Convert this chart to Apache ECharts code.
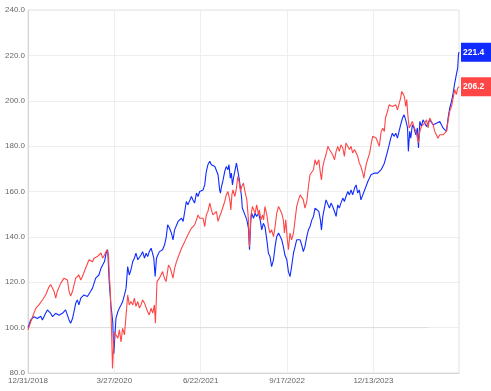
<!DOCTYPE html>
<html>
<head>
<meta charset="utf-8">
<script src="https://cdn.jsdelivr.net/npm/echarts@6/dist/echarts.min.js"></script>
<style>html,body{margin:0;padding:0;background:#fff}#c{width:491px;height:391px}</style>
</head>
<body>
<div id="c"></div>
<script>
// x positions are weekday indices counted from 12/31/2018 (324 weekdays between labels)
const tickLabels = ['12/31/2018', '3/27/2020', '6/22/2021', '9/17/2022', '12/13/2023'];
const tickStep = 324;

const blueIdx = [0,10,23,35,48,54,66,73,85,92,104,116,129,141,148,154,160,167,179,185,191,198,210,223,235,242,254,266,274,280,287,293,299,305,311,318,322,330,337,343,349,355,362,368,374,380,386,393,399,405,412,418,424,430,437,443,449,455,462,465,472,477,482,487,493,505,512,518,524,531,538,544,550,557,563,569,576,582,588,594,600,607,613,619,625,632,638,644,651,657,663,669,675,682,688,694,701,707,713,719,722,726,732,738,744,750,754,759,763,767,772,776,782,787,792,797,801,804,809,814,821,827,831,836,839,846,852,858,865,871,877,883,889,896,902,908,914,921,927,933,940,946,952,958,964,971,977,983,989,996,1002,1008,1015,1021,1027,1033,1039,1046,1052,1058,1065,1071,1077,1083,1091,1097,1101,1106,1112,1118,1125,1131,1137,1143,1150,1156,1162,1168,1174,1181,1187,1193,1200,1206,1212,1218,1225,1231,1237,1243,1249,1256,1262,1268,1275,1281,1287,1293,1300,1306,1312,1318,1325,1331,1337,1342,1349,1355,1361,1367,1373,1380,1386,1392,1398,1405,1411,1417,1424,1427,1432,1436,1442,1448,1455,1461,1465,1470,1476,1482,1488,1495,1501,1507,1514,1520,1526,1532,1538,1545,1551,1557,1564,1570,1576,1582,1589,1595,1601,1607,1612,1615,1617];
const blueVal = [100,103.4,104.8,104,105,103.4,106.3,107.8,106.3,104.8,106.3,105.5,106.3,107.8,108.5,103.4,101.9,104,110.7,112.2,110,113,114.4,113.7,116,117.4,121.8,123.2,126.2,127.6,129.1,132.8,134.3,119.6,110,102.6,88.5,104.1,107,108.6,110,111.5,114.4,117.4,126.9,123.2,125.4,129.1,130.6,132.8,129.9,129.1,132,133.5,130.6,132.8,131.3,133.5,135,135.7,130.6,122.5,130.6,132,133.5,134.3,136.4,139.4,145.3,143.8,141.7,138.7,143.1,143.8,146.8,146,148.2,146.8,151.2,155.6,154.1,154.9,157.8,156.3,154.9,159.3,157.8,160,159.3,160.7,162.9,168.8,171.8,173.3,171.8,172.5,171,170.3,167.4,160.7,159.3,162.2,165.1,168.8,171,169.6,171.8,165.9,168.1,162.9,166.6,165.9,172.5,173.3,165.9,161.4,157.8,152.7,153.4,149.7,147.5,143.8,134.3,147.5,150.4,148.2,150.4,149,150.4,147.5,143.1,146,144.5,138.7,132.8,131.3,126.9,129.9,135.7,140.1,141.7,142.3,138.7,135.7,132,129.9,124.7,122.5,126.9,132.8,135.7,138.7,139.4,138.7,136.4,133.5,135.7,140.1,143.1,144.5,147.5,149,152.7,151.9,151.2,147.5,143.1,149,152.7,156.3,157.1,152.7,154.9,153.4,151.2,149,154.1,152.7,154.9,157.1,155.6,157.8,160,158.5,160.7,158.5,161.4,162.9,159.3,160.7,156.3,158.5,159.3,162.2,164.4,165.9,167.4,168.1,168.1,168.8,168.1,168.8,169.6,170.3,172.5,174.7,177.7,180.6,183.5,185.7,184.3,185.7,183.5,184.3,189.4,192.4,193.8,191.6,188,177.7,186.5,183.5,189.4,188,185,188,179.2,190.9,188.7,191.6,190.9,188.7,189.4,191.6,192.4,189.4,188.7,190.1,189.4,190.9,189.4,188,188.7,186.5,192.4,196.7,199.7,203.4,207.8,211.5,214.4,220.3,221.4];

const redIdx = [0,17,29,41,54,66,79,85,98,104,110,123,135,148,154,160,167,179,191,198,204,216,229,242,248,260,274,280,287,296,302,305,309,314,317,320,324,330,337,343,349,355,362,368,374,380,386,393,399,405,412,418,424,430,437,443,449,455,462,468,474,478,484,493,505,512,518,527,534,538,544,550,557,563,569,576,582,588,594,600,607,613,619,625,632,638,644,651,657,663,669,675,682,688,694,701,707,713,719,726,732,738,744,750,757,761,765,769,776,782,787,792,797,802,808,814,821,827,831,836,842,847,852,858,865,868,874,880,884,889,893,897,902,908,914,921,927,933,940,946,952,958,962,967,972,977,983,989,996,1002,1008,1015,1021,1027,1033,1039,1046,1052,1058,1065,1071,1077,1083,1091,1097,1101,1106,1112,1118,1125,1131,1137,1143,1150,1156,1162,1168,1174,1181,1187,1193,1200,1206,1212,1218,1225,1231,1237,1243,1249,1256,1260,1265,1270,1276,1282,1287,1293,1300,1306,1312,1318,1325,1331,1337,1341,1347,1355,1361,1367,1373,1380,1386,1392,1398,1402,1409,1413,1417,1421,1425,1430,1436,1442,1448,1455,1461,1465,1470,1476,1482,1488,1495,1501,1507,1514,1520,1526,1532,1538,1545,1551,1557,1564,1570,1576,1582,1589,1595,1601,1607,1612,1617];
const redVal = [99,104.8,108.5,110,112.2,114.4,118,119,115.9,113,116,119.6,121.8,121,116,113.9,116,121.8,123.2,121,122.4,126.2,129.9,129,130.6,131.3,132.9,130.6,132,134.3,132,123.2,115.9,96.8,82,89.4,98.2,96.8,95.3,99,93.7,99.7,96.8,105.6,114.4,110,111.5,110,113,109.4,111.5,108.6,110,112.2,110.8,111.5,107,105.6,108.6,106.4,110,101.9,120.3,121.8,124.7,121.8,120.3,127.6,126.2,125.4,121.8,126,129.1,129.9,132.8,135,134.3,137.9,138.7,140.9,141.7,143.8,143.1,145.3,147.5,149.7,148.2,147.5,148.2,144.5,149.7,151.2,154.9,151.9,149.7,150.4,151.2,146.8,149,151.2,151.9,155.6,158.5,160,156.3,151.9,158.5,160.7,157.8,161.4,166.6,164.4,160,162.2,163.7,160,156.3,147.5,135.7,149,153.4,151.9,150.4,154.1,149.7,151.9,147.5,149.7,147.5,153.4,154.1,149,144.5,141.7,143.1,140.1,144.5,150.4,153.4,154.1,150.4,147.5,141.7,147.5,140.1,134.3,141.7,138.7,141.7,147.5,153.4,156.3,158.5,159.3,156.3,152.7,155.6,162.2,167.4,168.1,169.6,174,171.8,174,168.1,165.1,171,174,176.2,179.9,178.5,179.2,176.2,174,177.7,179.9,177.7,180.6,179.2,175.5,181.4,182,178.5,179.9,177,178.5,177.7,175.5,172.5,171,168.1,165.9,169.6,172.5,174.8,177,180.6,184.3,185,183.6,182.8,179.9,186.5,187.9,186.5,192.4,194.6,198.2,199,197.5,196.7,198.2,196,195.3,201.2,204.1,202.7,201.2,197.5,200.5,193.8,188,189.4,190.9,188.7,186.5,183.5,181.4,186.5,188.7,188,190.1,191.6,188,192.4,191.6,189.4,186.5,185,183.5,185,184.3,185,185.7,186.5,190.9,195.3,197.5,201.2,204.9,202.7,205.6,206.2];

const baseIdx = [0, 1501];
const baseVal = [100, 100];

const BLUE = '#0f2bff';
const RED = '#ff4646';

function pairs(xs, ys) { return xs.map((x, i) => [x, ys[i]]); }
const lastIdx = blueIdx[blueIdx.length - 1];

const chart = echarts.init(document.getElementById('c'), null, {renderer: 'canvas'});
chart.setOption({
  animation: false,
  backgroundColor: '#fff',
  grid: {left: 28, right: 32, top: 10, bottom: 18, show: true, borderColor: '#e0e0e0', borderWidth: 1},
  xAxis: {
    type: 'value', min: 0, max: lastIdx, interval: tickStep,
    axisLine: {show: true, lineStyle: {color: '#d6d6d6'}},
    axisTick: {show: false},
    splitLine: {show: true, lineStyle: {color: '#eeeeee'}},
    axisLabel: {
      color: '#666', fontSize: 8, fontFamily: 'Liberation Sans, Arial, sans-serif', margin: 4,
      showMaxLabel: false,
      formatter: v => (v % tickStep === 0 && tickLabels[v / tickStep]) ? tickLabels[v / tickStep] : ''
    }
  },
  yAxis: {
    type: 'value', min: 80, max: 240, interval: 20,
    axisLine: {show: true, lineStyle: {color: '#d6d6d6'}},
    axisTick: {show: false},
    splitLine: {show: true, lineStyle: {color: '#eeeeee'}},
    axisLabel: {color: '#666', fontSize: 8, fontFamily: 'Liberation Sans, Arial, sans-serif', margin: 3,
      formatter: v => v.toFixed(1)}
  },
  series: [
    {
      type: 'line', data: pairs(baseIdx, baseVal), symbol: 'none', silent: true,
      lineStyle: {color: '#dddddd', width: 1}, z: 1
    },
    {
      name: 'blue', type: 'line', data: pairs(blueIdx, blueVal), symbol: 'none',
      lineStyle: {color: BLUE, width: 1.1}, itemStyle: {color: BLUE}, z: 2,
      endLabel: {show: true, formatter: p => p.value[1].toFixed(1), backgroundColor: BLUE, color: '#fff',
        fontSize: 8.5, fontWeight: 'bold', fontFamily: 'Liberation Sans, Arial, sans-serif', padding: [5, 9, 5, 2], distance: 2}
    },
    {
      name: 'red', type: 'line', data: pairs(redIdx, redVal), symbol: 'none',
      lineStyle: {color: RED, width: 1.1}, itemStyle: {color: RED}, z: 3,
      endLabel: {show: true, formatter: p => p.value[1].toFixed(1), backgroundColor: RED, color: '#fff',
        fontSize: 8.5, fontWeight: 'bold', fontFamily: 'Liberation Sans, Arial, sans-serif', padding: [5, 9, 5, 2], distance: 2}
    }
  ]
});
</script>
</body>
</html>
